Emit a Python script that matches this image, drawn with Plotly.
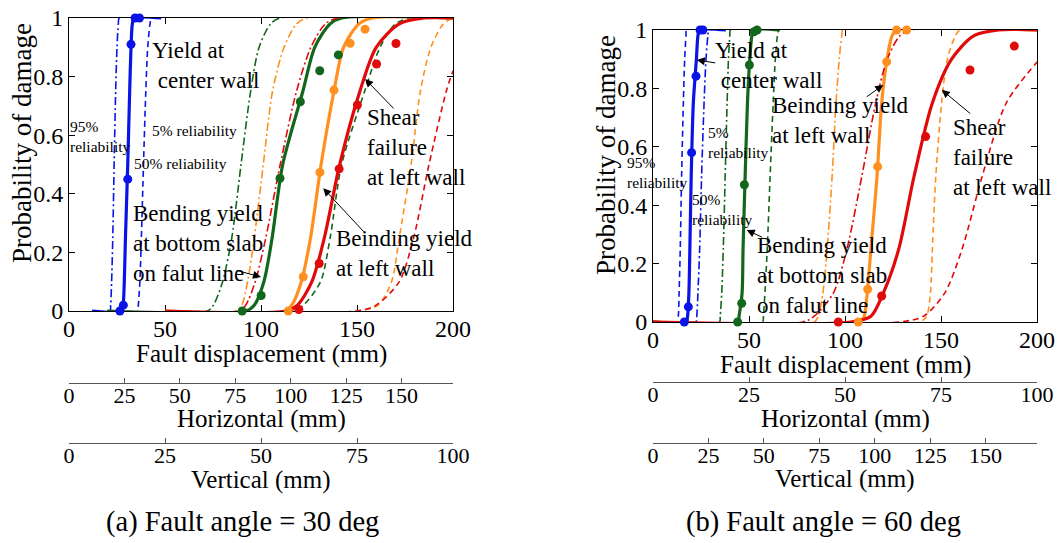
import plotly.graph_objects as go

W, H = 1057, 543
FONT = "Liberation Serif"

P_LEVELS = [0, 0.02, 0.1, 0.25, 0.5, 0.75, 0.9, 0.98, 1.0]

# ---------------- (a) Fault angle = 30 deg : fault displacement (mm) ----------------
a_center_50 = [27.5, 28.2, 28.8, 29.4, 30.6, 31.6, 32.3, 33.0, 34.0]
a_center_95 = [21.3, 21.7, 22.2, 22.8, 23.5, 24.3, 25.0, 25.7, 26.2]
a_center_5 = [35.7, 36.1, 36.9, 37.7, 38.8, 40.0, 41.0, 42.2, 43.0]
a_slab_50 = [92.0, 96.5, 101.5, 105.8, 111.3, 121.8, 128.0, 136.0, 142.0]
a_slab_95 = [72.0, 75.2, 80.0, 84.8, 89.6, 94.6, 99.0, 105.0, 110.0]
a_slab_5 = [115.0, 122.0, 131.0, 136.0, 142.0, 154.0, 162.0, 170.0, 178.0]
a_bend_50 = [112.5, 116.0, 121.0, 125.8, 131.3, 138.0, 143.0, 151.0, 158.0]
a_bend_95 = [87.0, 90.0, 93.0, 96.5, 101.2, 106.0, 112.0, 118.5, 124.0]
a_bend_5 = [150.0, 161.0, 168.0, 172.0, 178.2, 183.0, 188.5, 195.0, 200.0]
a_shear_50 = [113.0, 119.0, 126.5, 133.0, 141.0, 151.5, 160.0, 172.0, 185.0]
a_shear_95 = [88.0, 92.0, 97.0, 102.5, 110.0, 118.5, 126.0, 133.5, 140.0]
a_shear_5_x = [150.0, 160.0, 172.0, 179.5, 187.5, 196.5, 200.0]
a_shear_5_p = [0, 0.02, 0.1, 0.25, 0.5, 0.75, 0.82]

# analysis results (dots)
a_center_pts_x = [26.5, 28.3, 30.6, 32.3, 34.4, 36.7]
a_center_pts_p = [0.0, 0.02, 0.45, 0.91, 1.0, 1.0]
a_slab_pts_x = [90.2, 100.1, 109.9, 120.5, 130.6, 140.3]
a_slab_pts_p = [0.0, 0.053, 0.453, 0.714, 0.82, 0.874]
a_bend_pts_x = [114.2, 122.0, 130.7, 138.0, 146.4, 154.2]
a_bend_pts_p = [0.0, 0.117, 0.473, 0.754, 0.914, 0.962]
a_shear_pts_x = [119.7, 130.3, 140.7, 150.2, 160.2, 170.3]
a_shear_pts_p = [0.005, 0.162, 0.485, 0.703, 0.843, 0.913]

# ---------------- (b) Fault angle = 60 deg ----------------
b_center_50 = [17.3, 18.0, 18.7, 19.2, 19.9, 21.0, 22.6, 23.4, 24.2]
b_center_95 = [12.8, 13.2, 13.6, 14.2, 14.9, 15.8, 16.5, 17.2, 17.6]
b_center_5 = [22.3, 22.8, 23.4, 24.3, 25.3, 26.6, 27.6, 28.6, 29.2]
b_slab_50 = [44.2, 44.8, 46.4, 46.9, 48.0, 49.2, 50.4, 51.5, 52.5]
b_slab_95 = [34.6, 35.0, 35.8, 36.6, 37.6, 38.6, 39.3, 40.0, 40.4]
b_slab_5 = [57.0, 57.5, 58.3, 59.5, 61.0, 62.6, 63.7, 64.8, 65.6]
b_bend_50 = [108.0, 110.0, 111.6, 113.5, 116.7, 119.1, 121.9, 124.5, 127.0]
b_bend_95 = [84.0, 86.0, 88.5, 90.7, 93.3, 95.3, 97.0, 98.3, 99.0]
b_bend_5 = [139.0, 142.5, 144.5, 145.5, 147.3, 150.3, 153.3, 157.5, 160.0]
b_shear_50 = [103.0, 113.5, 120.0, 128.0, 136.0, 145.5, 155.5, 167.0, 180.0]
b_shear_95 = [78.0, 84.0, 94.0, 101.0, 108.8, 116.0, 122.0, 128.5, 134.0]
b_shear_5_x = [128.0, 141.0, 152.0, 161.0, 171.5, 184.0, 200.0]
b_shear_5_p = [0, 0.02, 0.1, 0.25, 0.5, 0.75, 0.89]

b_center_pts_x = [16.3, 18.4, 20.1, 22.4, 24.5, 26.0]
b_center_pts_p = [0.0, 0.052, 0.58, 0.842, 1.0, 1.0]
b_slab_pts_x = [44.1, 46.2, 47.6, 50.2, 52.6, 54.2]
b_slab_pts_p = [0.0, 0.064, 0.47, 0.88, 0.994, 1.0]
b_bend_pts_x = [106.9, 111.8, 117.0, 121.7, 126.9, 132.1]
b_bend_pts_p = [0.0, 0.112, 0.532, 0.891, 1.0, 1.0]
b_shear_pts_x = [96.5, 119.1, 142.0, 165.1, 188.2]
b_shear_pts_p = [0.0, 0.089, 0.635, 0.863, 0.945]

# secondary axes (components of the fault displacement)
a_horiz_max, a_vert_max = 173.2, 100.0
b_horiz_max, b_vert_max = 100.0, 173.2

BLUE = "#0a14e6"
GREEN = "#12671c"
ORANGE = "#ff9020"
RED = "#e00a0a"
DASH = "6px,4px"
DASHDOT = "8px,3px,2px,3px"

fig = go.Figure()


def add_curve(xs, ps, lo, hi, color, width, dash, xa, ya):
    x = list(xs)
    y = list(ps)
    if lo is not None and lo < x[0]:
        x = [lo] + x
        y = [0] + y
    if hi is not None and hi > x[-1] and y[-1] == 1:
        x = x + [hi]
        y = y + [1]
    fig.add_trace(go.Scatter(
        x=x, y=y, mode="lines",
        line=dict(color=color, width=width, dash=dash, shape="spline", smoothing=0.8),
        xaxis=xa, yaxis=ya, showlegend=False, hoverinfo="skip", cliponaxis=False))


def add_dots(xs, ps, color, xa, ya):
    fig.add_trace(go.Scatter(
        x=xs, y=ps, mode="markers", marker=dict(color=color, size=9),
        xaxis=xa, yaxis=ya, showlegend=False, hoverinfo="skip", cliponaxis=False))


# panel (a)
for c95, c5, c50, lo, hi, col in [
    (a_center_95, a_center_5, a_center_50, 12, 48, BLUE),
    (a_slab_95, a_slab_5, a_slab_50, 20, 200, GREEN),
    (a_bend_95, a_bend_5, a_bend_50, 50, 200, ORANGE),
]:
    add_curve(c95, P_LEVELS, lo, hi, col, 1.6, DASHDOT, "x", "y")
    add_curve(c5, P_LEVELS, lo, hi, col, 1.6, DASH, "x", "y")
    add_curve(c50, P_LEVELS, lo, hi, col, 3.2, "solid", "x", "y")
add_curve(a_shear_95, P_LEVELS, 50, 200, RED, 1.6, DASHDOT, "x", "y")
add_curve(a_shear_5_x, a_shear_5_p, 50, None, RED, 1.6, DASH, "x", "y")
add_curve(a_shear_50, P_LEVELS, 50, 200, RED, 3.2, "solid", "x", "y")
for xs, ps, col in [(a_center_pts_x, a_center_pts_p, BLUE), (a_slab_pts_x, a_slab_pts_p, GREEN),
                    (a_bend_pts_x, a_bend_pts_p, ORANGE), (a_shear_pts_x, a_shear_pts_p, RED)]:
    add_dots(xs, ps, col, "x", "y")

# panel (b)
add_curve(b_center_95, P_LEVELS, 0, 38, BLUE, 1.6, DASH, "x2", "y2")
add_curve(b_center_5, P_LEVELS, 0, 38, BLUE, 1.6, DASHDOT, "x2", "y2")
add_curve(b_center_50, P_LEVELS, 0, 38, BLUE, 3.2, "solid", "x2", "y2")
for c95, c5, c50, lo, hi, col in [
    (b_slab_95, b_slab_5, b_slab_50, 0, 66, GREEN),
    (b_bend_95, b_bend_5, b_bend_50, 0, 200, ORANGE),
]:
    add_curve(c95, P_LEVELS, lo, hi, col, 1.6, DASHDOT, "x2", "y2")
    add_curve(c5, P_LEVELS, lo, hi, col, 1.6, DASH, "x2", "y2")
    add_curve(c50, P_LEVELS, lo, hi, col, 3.2, "solid", "x2", "y2")
add_curve(b_shear_95, P_LEVELS, 0, 200, RED, 1.6, DASHDOT, "x2", "y2")
add_curve(b_shear_5_x, b_shear_5_p, 0, None, RED, 1.6, DASH, "x2", "y2")
add_curve(b_shear_50, P_LEVELS, 0, 200, RED, 3.2, "solid", "x2", "y2")
for xs, ps, col in [(b_center_pts_x, b_center_pts_p, BLUE), (b_slab_pts_x, b_slab_pts_p, GREEN),
                    (b_bend_pts_x, b_bend_pts_p, ORANGE), (b_shear_pts_x, b_shear_pts_p, RED)]:
    add_dots(xs, ps, col, "x2", "y2")

# invisible anchors for the secondary displacement axes
for i in range(3, 7):
    fig.add_trace(go.Scatter(x=[0], y=[0], mode="markers", marker=dict(opacity=0),
                             xaxis=f"x{i}", yaxis=f"y{i}", showlegend=False, hoverinfo="skip"))


def pxx(px):
    return px / W


def pxy(py):
    return 1 - py / H


A_X = [pxx(69), pxx(453)]
A_Y = [pxy(311), pxy(18)]
B_X = [pxx(653), pxx(1037)]
B_Y = [pxy(322), pxy(30)]

main_ax = dict(showline=True, linecolor="black", linewidth=1, mirror="ticks", ticks="inside",
               ticklen=6, tickcolor="black", showgrid=False, zeroline=False, layer="below traces",
               automargin=False, tickfont=dict(family=FONT, size=24, color="black"))
sub_ax = dict(showline=True, linecolor="#555", linewidth=1.2, ticks="inside", ticklen=5,
              tickcolor="#555", showgrid=False, zeroline=False, dtick=25, tick0=0,
              automargin=False, ticklabelstandoff=-8,
              tickfont=dict(family=FONT, size=22, color="black"))
dummy_y = dict(visible=False, range=[0, 1], fixedrange=True, automargin=False)

fig.update_layout(
    template="none",
    width=W, height=H, autosize=False,
    margin=dict(l=0, r=0, t=0, b=0, pad=0, autoexpand=False),
    paper_bgcolor="white", plot_bgcolor="white",
    font=dict(family=FONT, color="black"),
    xaxis=dict(domain=A_X, range=[0, 200], dtick=50, anchor="y", ticklabelstandoff=-4, **main_ax),
    yaxis=dict(domain=A_Y, range=[0, 1], dtick=0.2, anchor="x", **main_ax),
    xaxis2=dict(domain=B_X, range=[0, 200], dtick=50, anchor="y2", ticklabelstandoff=-4, **main_ax),
    yaxis2=dict(domain=B_Y, range=[0, 1], dtick=0.2, anchor="x2", **main_ax),
    xaxis3=dict(domain=A_X, range=[0, a_horiz_max], anchor="y3", **sub_ax),
    yaxis3=dict(domain=[pxy(383), pxy(383) + 0.01], **dummy_y),
    xaxis4=dict(domain=A_X, range=[0, a_vert_max], anchor="y4", **sub_ax),
    yaxis4=dict(domain=[pxy(443), pxy(443) + 0.01], **dummy_y),
    xaxis5=dict(domain=B_X, range=[0, b_horiz_max], anchor="y5", **sub_ax),
    yaxis5=dict(domain=[pxy(382), pxy(382) + 0.01], **dummy_y),
    xaxis6=dict(domain=B_X, range=[0, b_vert_max], anchor="y6", **sub_ax),
    yaxis6=dict(domain=[pxy(443), pxy(443) + 0.01], **dummy_y),
)

ann = []


def text(px, py, s, size, xanchor="center", angle=0):
    ann.append(dict(x=pxx(px), y=pxy(py), xref="paper", yref="paper", text=s, showarrow=False,
                    xanchor=xanchor, yanchor="middle", align="left", textangle=angle,
                    font=dict(family=FONT, size=size, color="black")))


def arrow(xd, yd, ax, ay, xr, yr):
    ann.append(dict(x=xd, y=yd, xref=xr, yref=yr, ax=ax, ay=ay, axref="pixel", ayref="pixel",
                    text="", showarrow=True, arrowhead=2, arrowsize=1.6, arrowwidth=1,
                    arrowcolor="black"))


# axis titles and captions
text(22, 143, "Probability of damage", 27, angle=-90)
text(261, 354, "Fault displacement (mm)", 25)
text(261, 419, "Horizontal (mm)", 25)
text(261, 480, "Vertical (mm)", 25)
text(242, 522, "(a) Fault angle = 30 deg", 28.5)
text(606, 155, "Probability of damage", 27, angle=-90)
text(845, 365, "Fault displacement (mm)", 25)
text(845, 419, "Horizontal (mm)", 25)
text(845, 479, "Vertical (mm)", 25)
text(823, 522, "(b) Fault angle = 60 deg", 28.5)

# panel (a) labels
text(150, 65.5, "Yield at<br>&nbsp;center wall", 23, "left")
text(68, 136.5, "95%<br>reliability", 15.5, "left")
text(150, 130, "5% reliability", 15.5, "left")
text(132, 163, "50% reliability", 15.5, "left")
text(131, 243, "Bending yield<br>at bottom slab<br>on falut line", 23, "left")
text(365, 148, "Shear<br>failure<br>at left wall", 23, "left")
text(334, 253.5, "Beinding yield<br>at left wall", 23, "left")
arrow(100.0, 0.116, -26, -7, "x", "y")
arrow(132.4, 0.419, 42, 45, "x", "y")
arrow(154.2, 0.792, 30, 31, "x", "y")

# panel (b) labels
text(713, 65, "Yield at<br>&nbsp;center wall", 23, "left")
text(625, 172, "95%<br>reliability", 15.5, "left")
text(706, 142, "5%<br>reliability", 15.5, "left")
text(690, 209, "50%<br>reliability", 15.5, "left")
text(770, 121, "Beinding yield<br>at left wall", 23, "left")
text(755, 275, "Bending yield<br>at bottom slab<br>on falut line", 23, "left")
text(951, 157.5, "Shear<br>failure<br>at left wall", 23, "left")
arrow(22.8, 0.897, 20, 3, "x2", "y2")
arrow(119.9, 0.812, -18, 13, "x2", "y2")
arrow(48.8, 0.315, 17, 8, "x2", "y2")
arrow(150.4, 0.795, 30, 25, "x2", "y2")

fig.update_layout(annotations=ann)
fig.write_html("out.html", config={"displayModeBar": False},
               post_script="document.body.style.margin='0';document.body.style.overflow='hidden';")
